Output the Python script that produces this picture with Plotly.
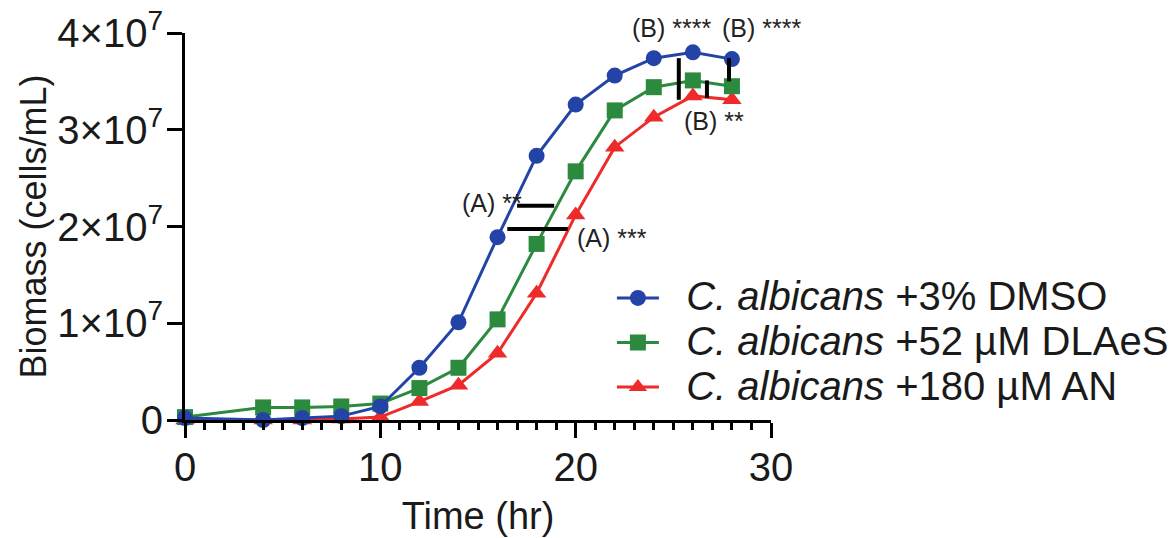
import plotly.graph_objects as go

# ---- data (biomass in cells/mL) ----
time_hr = [0, 4, 6, 8, 10, 12, 14, 16, 18, 20, 22, 24, 26, 28]
dmso_e7 = [0.02, 0.00, 0.02, 0.04, 0.14, 0.54, 1.01, 1.89, 2.73, 3.26, 3.56, 3.74, 3.80, 3.73]
dlaes_e7 = [0.03, 0.13, 0.13, 0.14, 0.17, 0.33, 0.54, 1.04, 1.82, 2.57, 3.20, 3.44, 3.51, 3.45]
an_e7 = [0.00, 0.00, 0.00, 0.01, 0.03, 0.19, 0.36, 0.69, 1.31, 2.12, 2.82, 3.13, 3.35, 3.31]
scale = 1e7

series_names = ["<i>C. albicans</i> +3% DMSO",
                "<i>C. albicans</i> +52 µM DLAeS",
                "<i>C. albicans</i> +180 µM AN"]

y_max_e7 = 4.0
y_tickvals = [0, 1e7, 2e7, 3e7, 4e7]
y_ticktext = ["0", "1×10<sup>7</sup>", "2×10<sup>7</sup>", "3×10<sup>7</sup>", "4×10<sup>7</sup>"]
x_tickvals = [0, 10, 20, 30]

# significance brackets (A): horizontal bars  [x0, x1, y(e7)]
bars_A = [[17.0, 18.9, 2.215], [16.5, 19.6, 1.974]]
# significance brackets (B): vertical bars [x, y0(e7), y1(e7)]
bars_B = [[25.28, 3.31, 3.74], [26.72, 3.33, 3.51], [27.85, 3.50, 3.74]]
# labels [text, x, y(e7)]  (x = left edge)
sig_labels = [["(A) **", 14.1, 2.24], ["(A) ***", 19.95, 1.88],
              ["(B) ****", 22.77, 4.05], ["(B) ****", 27.4, 4.05],
              ["(B) **", 25.45, 3.09]]

colors = ["#2443a6", "#2b8a3e", "#ee2a2a"]
symbols = ["circle", "square", "triangle-up"]
sizes = [16, 16, 17]
FONT = "Liberation Sans, Arial, Helvetica, sans-serif"

fig = go.Figure()
traces = []
for name, vals, c, s, sz in zip(series_names, [dmso_e7, dlaes_e7, an_e7], colors, symbols, sizes):
    traces.append(go.Scatter(
        x=time_hr, y=[v * scale for v in vals], mode="lines+markers",
        name='<span style="font-size:40px">\u00a0\u00a0' + name + "</span>",
        line=dict(color=c, width=3),
        marker=dict(color=c, symbol=s, size=sz, line=dict(width=0)),
        cliponaxis=False,
    ))
# draw blue on top (as in reference)
for t in reversed(traces):
    fig.add_trace(t)

shapes = []
for x0, x1, y in bars_A:
    shapes.append(dict(type="line", xref="x", yref="y", x0=x0, x1=x1, y0=y * scale, y1=y * scale,
                       line=dict(color="black", width=4)))
for x, y0, y1 in bars_B:
    shapes.append(dict(type="line", xref="x", yref="y", x0=x, x1=x, y0=y0 * scale, y1=y1 * scale,
                       line=dict(color="black", width=4)))

annotations = []
for t, x, y in sig_labels:
    annotations.append(dict(text=t, x=x, y=y / y_max_e7, xref="x", yref="paper", xanchor="left",
                            yanchor="middle", showarrow=False,
                            font=dict(family=FONT, size=25, color="#222")))

fig.update_layout(
    width=1170, height=538,
    margin=dict(l=185, r=399, t=33, b=118, autoexpand=False),
    plot_bgcolor="white", paper_bgcolor="white",
    font=dict(family=FONT, color="#1a1a1a"),
    showlegend=True,
    legend=dict(x=0.523, y=0.497, xref="container", yref="container",
                xanchor="left", yanchor="top",
                font=dict(family=FONT, size=32, color="#1a1a1a"),
                bgcolor="rgba(0,0,0,0)", traceorder="reversed", itemwidth=42),
    shapes=shapes, annotations=annotations,
)

fig.update_xaxes(
    range=[0, 30], showgrid=False, zeroline=False, automargin=False,
    showline=True, linecolor="black", linewidth=3,
    ticks="outside", tickvals=x_tickvals, ticklen=15, tickwidth=3, tickcolor="black",
    ticklabelstandoff=-5,
    tickfont=dict(family=FONT, size=40, color="#1a1a1a"),
    minor=dict(dtick=1, ticks="outside", ticklen=7, tickwidth=3, tickcolor="black", showgrid=False),
    title=dict(text="Time (hr)", font=dict(family=FONT, size=38, color="#1a1a1a"), standoff=15),
)
fig.update_yaxes(
    range=[0, 4e7], showgrid=False, zeroline=False, automargin=False,
    showline=True, linecolor="black", linewidth=3,
    ticks="outside", tickvals=y_tickvals, ticktext=y_ticktext,
    ticklen=15, tickwidth=3, tickcolor="black",
    ticklabelstandoff=-4,
    tickfont=dict(family=FONT, size=40, color="#1a1a1a"),
    title=dict(text="Biomass (cells/mL)", font=dict(family=FONT, size=36, color="#1a1a1a"), standoff=0),
)

fig.write_html("out.html", config={"displayModeBar": False},
               post_script="document.body.style.margin='0px';")
